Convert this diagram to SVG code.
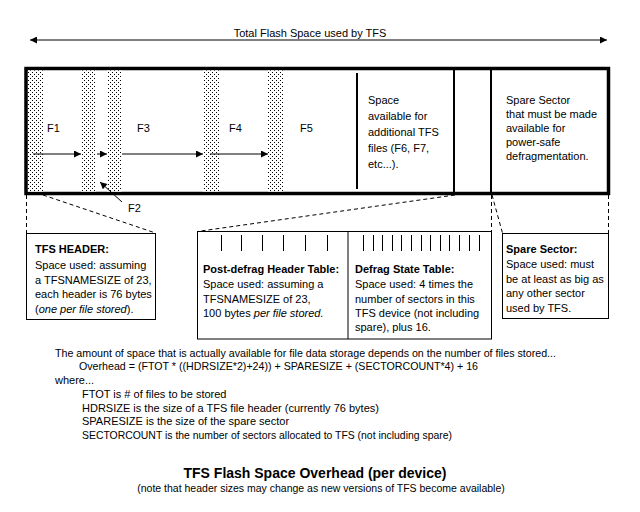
<svg xmlns="http://www.w3.org/2000/svg" width="640" height="512" viewBox="0 0 640 512">
<style>
text{font-family:"Liberation Sans",Arial,sans-serif;font-size:11px;fill:#000}
.b{font-weight:bold}
.i{font-style:italic}
.t{font-size:14px;font-weight:bold}
.s{font-size:10.5px}
.thin{stroke:#000;stroke-width:1;fill:none}
.dash{stroke:#000;stroke-width:1;fill:none;stroke-dasharray:4 3}
.box{fill:#fff;stroke:#000;stroke-width:1}
.stip{fill:url(#dots);stroke:none}
</style>
<defs>
<pattern id="dots" width="4" height="4" patternUnits="userSpaceOnUse">
<rect width="4" height="4" fill="#fff"/>
<rect x="0" y="0" width="1" height="1" fill="#000"/>
<rect x="2" y="2" width="1" height="1" fill="#000"/>
</pattern>
<marker id="ah" viewBox="0 0 10 10" refX="10" refY="5" markerUnits="userSpaceOnUse" markerWidth="9" markerHeight="7" orient="auto-start-reverse">
<path d="M0,0 L10,5 L0,10 z" fill="#000"/>
</marker>
</defs>
<rect width="640" height="512" fill="#fff"/>

<g id="total-span-label">
<text x="310" y="37" text-anchor="middle">Total Flash Space used by TFS</text>
</g>

<g id="flash-layout">
<rect x="26" y="68.5" width="582.5" height="125" fill="#fff" stroke="#000" stroke-width="3.5"/>
<rect class="stip" x="28" y="70.5" width="15" height="121"/>
<rect class="stip" x="81" y="70.5" width="15" height="121"/>
<rect class="stip" x="107" y="70.5" width="15" height="121"/>
<rect class="stip" x="203" y="70.5" width="16" height="121"/>
<rect class="stip" x="268" y="70.5" width="15" height="121"/>
<line x1="357" y1="73" x2="357" y2="189" stroke="#000" stroke-width="2"/>
<line x1="454" y1="70" x2="454" y2="192" stroke="#000" stroke-width="2"/>
<line x1="491" y1="70" x2="491" y2="192" stroke="#000" stroke-width="2"/>
<text x="47" y="132">F1</text>
<text x="137" y="132">F3</text>
<text x="229" y="132">F4</text>
<text x="300" y="132">F5</text>
<text x="368" y="104">Space</text>
<text x="368" y="120">available for</text>
<text x="368" y="136">additional TFS</text>
<text x="368" y="152">files (F6, F7,</text>
<text x="368" y="168">etc...).</text>
<text x="506" y="104">Spare Sector</text>
<text x="506" y="118">that must be made</text>
<text x="506" y="132">available for</text>
<text x="506" y="146">power-safe</text>
<text x="506" y="160">defragmentation.</text>
</g>

<g id="f2-label">
<text x="128" y="212">F2</text>
</g>

<g id="tfs-header-box">
<rect class="box" x="26.5" y="233.5" width="129" height="86"/>
<text class="b" x="35" y="253">TFS HEADER:</text>
<text x="35" y="269">Space used: assuming</text>
<text x="35" y="284">a TFSNAMESIZE of 23,</text>
<text x="35" y="298">each header is 76 bytes</text>
<text x="35" y="313">(<tspan class="i">one per file stored</tspan>).</text>
</g>

<g id="defrag-tables-box">
<rect class="box" x="197.5" y="231.5" width="294" height="107.5"/>
<line class="thin" x1="348" y1="232" x2="348" y2="339"/>
<path class="thin" d="M221.5,235V251M241.5,235V251M262.5,235V251M283.5,235V251M305.5,235V251M327.5,235V251"/>
<path class="thin" d="M363.5,235V251M373.5,235V251M382.5,235V251M392.5,235V251M401.5,235V251M411.5,235V251M421.5,235V251M430.5,235V251M440.5,235V251M449.5,235V251M459.5,235V251M469.5,235V251M479.5,235V251"/>
<text class="b" x="203" y="273">Post-defrag Header Table:</text>
<text x="203" y="288">Space used: assuming a</text>
<text x="203" y="303">TFSNAMESIZE of 23,</text>
<text x="203" y="317">100 bytes <tspan class="i">per file stored.</tspan></text>
<text class="b" x="355" y="273">Defrag State Table:</text>
<text x="355" y="288">Space used: 4 times the</text>
<text x="355" y="303">number of sectors in this</text>
<text x="355" y="317">TFS device (not including</text>
<text x="355" y="331">spare), plus 16.</text>
</g>

<g id="spare-sector-box">
<rect class="box" x="502.5" y="233.5" width="106" height="85"/>
<text class="b" x="506" y="253">Spare Sector:</text>
<text x="506" y="268">Space used: must</text>
<text x="506" y="283">be at least as big as</text>
<text x="506" y="297">any other sector</text>
<text x="506" y="312">used by TFS.</text>
</g>

<g id="overhead-text">
<text x="55" y="357" textLength="501" lengthAdjust="spacingAndGlyphs">The amount of space that is actually available for file data storage depends on the number of files stored...</text>
<text x="79" y="370" textLength="399" lengthAdjust="spacingAndGlyphs">Overhead = (FTOT * ((HDRSIZE*2)+24)) + SPARESIZE + (SECTORCOUNT*4) + 16</text>
<text x="55" y="384">where...</text>
<text x="82" y="398">FTOT is # of files to be stored</text>
<text x="82" y="412">HDRSIZE is the size of a TFS file header (currently 76 bytes)</text>
<text x="82" y="425">SPARESIZE is the size of the spare sector</text>
<text x="82" y="439" textLength="370" lengthAdjust="spacingAndGlyphs">SECTORCOUNT is the number of sectors allocated to TFS (not including spare)</text>
</g>

<g id="title">
<text class="t" x="315" y="478" text-anchor="middle">TFS Flash Space Overhead (per device)</text>
<text class="s" x="321" y="492" text-anchor="middle">(note that header sizes may change as new versions of TFS become available)</text>
</g>

<g id="connectors">
<line class="thin" x1="30" y1="40" x2="607" y2="40" marker-start="url(#ah)" marker-end="url(#ah)"/>
<line class="thin" x1="33" y1="154" x2="81" y2="154" marker-end="url(#ah)"/>
<line class="thin" x1="97" y1="154" x2="107" y2="154" marker-end="url(#ah)"/>
<line class="thin" x1="122" y1="154" x2="203" y2="154" marker-end="url(#ah)"/>
<line class="thin" x1="210" y1="154" x2="268" y2="154" marker-end="url(#ah)"/>
<line class="thin" x1="122" y1="202" x2="100" y2="182" marker-end="url(#ah)"/>
<line class="dash" x1="26.5" y1="195" x2="26.5" y2="233"/>
<line class="dash" x1="43" y1="195" x2="155.5" y2="233"/>
<line class="dash" x1="455" y1="195" x2="197.5" y2="231.5"/>
<line class="dash" x1="491.5" y1="195" x2="491.5" y2="231"/>
<line class="dash" x1="492" y1="195" x2="502.5" y2="233"/>
<line class="dash" x1="608.5" y1="195" x2="608.5" y2="233"/>
</g>
</svg>
